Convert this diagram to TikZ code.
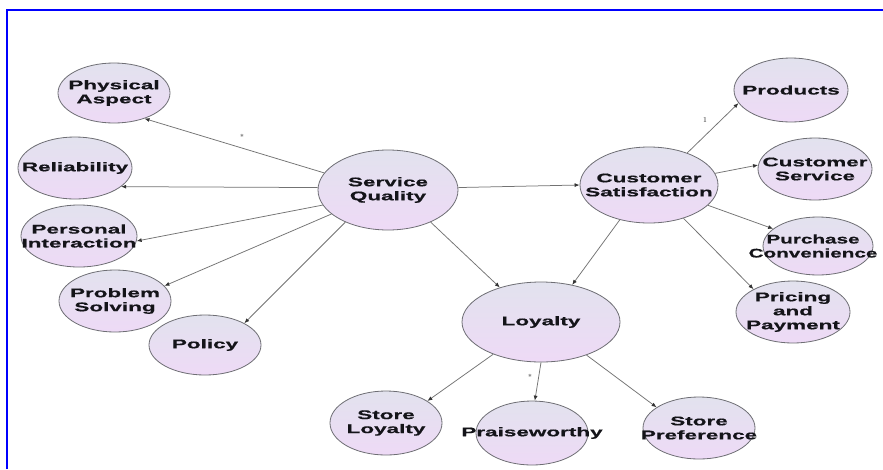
\documentclass[tikz,border=0pt]{standalone}
\usepackage{fontspec}
\usetikzlibrary{shapes.geometric,arrows.meta}
\newfontfamily\bubfont{Liberation Sans}[FakeStretch=1.8,FakeBold=0.6]
\definecolor{framecol}{RGB}{0,0,255}
\definecolor{bubtop}{RGB}{226,226,238}
\definecolor{bubbot}{RGB}{238,218,246}
\definecolor{bubedge}{RGB}{110,110,116}
\definecolor{linkcol}{RGB}{115,115,115}
\definecolor{textcol}{RGB}{20,20,25}
\tikzset{
  bubble/.style={ellipse, draw=bubedge, line width=0.8pt,
    top color=bubtop, bottom color=bubbot, inner sep=0pt},
  bubtext/.style={font=\bubfont\bfseries\fontsize{12.5}{14}\selectfont,
    text=textcol, align=center, inner sep=0pt},
  link/.style={draw=linkcol, line width=0.75pt,
    -{Latex[length=5pt,width=4pt,color=black!80]}},
  mult/.style={font=\sffamily\bfseries\fontsize{7}{7}\selectfont, text=black!55, inner sep=0pt}
}
\begin{document}
\begin{tikzpicture}[x=1pt,y=-1pt]
\useasboundingbox (0,0) rectangle (883,469);
\fill[white] (0,0) rectangle (883,469);
% frame
\draw[framecol, line width=2pt] (6.5,469) -- (6.5,9.5) -- (883,9.5);

% bubbles
\node[bubble, minimum width=112pt, minimum height=60pt] (pa) at (114,93) {};
\node[bubble, minimum width=114pt, minimum height=62pt] (rel) at (75,168) {};
\node[bubble, minimum width=116pt, minimum height=62pt] (pi) at (79,236) {};
\node[bubble, minimum width=112pt, minimum height=62pt] (ps) at (115,301) {};
\node[bubble, minimum width=112pt, minimum height=60pt] (pol) at (205,345) {};
\node[bubble, minimum width=140pt, minimum height=80pt] (sq) at (388,190) {};
\node[bubble, minimum width=138pt, minimum height=76pt] (cs) at (649,185) {};
\node[bubble, minimum width=114pt, minimum height=64pt] (prod) at (791,90) {};
\node[bubble, minimum width=114pt, minimum height=62pt] (csv) at (815,169) {};
\node[bubble, minimum width=110pt, minimum height=58pt] (pc) at (818,246) {};
\node[bubble, minimum width=114pt, minimum height=62pt] (pp) at (793,312) {};
\node[bubble, minimum width=158pt, minimum height=80pt] (loy) at (541,322) {};
\node[bubble, minimum width=112pt, minimum height=64pt] (sl) at (386,423) {};
\node[bubble, minimum width=112pt, minimum height=64pt] (pw) at (532,433) {};
\node[bubble, minimum width=112pt, minimum height=62pt] (sp) at (699,428) {};

% bubble captions
\node[bubtext] (pat) at (pa) {Physical\\Aspect};
\node[bubtext] (relt) at (rel) {Reliability};
\node[bubtext] (pit) at (pi) {Personal\\Interaction};
\node[bubtext] (pst) at (ps) {Problem\\Solving};
\node[bubtext] (polt) at (pol) {Policy};
\node[bubtext] (sqt) at (sq) {Service\\Quality};
\node[bubtext] (cst) at (cs) {Customer\\Satisfaction};
\node[bubtext] (prodt) at (prod) {Products};
\node[bubtext] (csvt) at (815,169) {Customer\\Service};
\node[bubtext] (pct) at (813,246) {\scalebox{0.92}[1]{Purchase}\\\scalebox{0.92}[1]{Convenience}};
\node[bubtext] (ppt) at (pp) {Pricing\\and\\Payment};
\node[bubtext] (loyt) at (loy) {Loyalty};
\node[bubtext] (slt) at (sl) {Store\\Loyalty};
\node[bubtext] (pwt) at (pw) {Praiseworthy};
\node[bubtext] (spt) at (sp) {Store\\Preference};

% service quality links
\draw[link] (sq.165) -- (pa.320);
\draw[link] (sq.178) -- (rel.338);
\draw[link] (sq.193) -- (pi.355);
\draw[link] (sq.203) -- (ps.17);
\draw[link] (sq.217) -- (pol.29);
\draw[link] (sq.2) -- (cs.180);
\draw[link] (sq.323) -- (loy.140);

% customer satisfaction links
\draw[link] (cs.230) -- (loy.50);
\draw[link] (cs.40) -- (prod.194);
\draw[link] (cs.10) -- (csv.176);
\draw[link] (cs.341) -- (pc.159);
\draw[link] (cs.316) -- (pp.150);

% loyalty links
\draw[link] (loy.214) -- (sl.28);
\draw[link] (loy.270) -- (pw.85);
\draw[link] (loy.324) -- (sp.154);

% multiplicity marks
\node[mult] (m1) at (242,137) {*};
\node[mult] (m2) at (705,120) {1};
\node[mult] (m3) at (530,377) {*};
\end{tikzpicture}
\end{document}
